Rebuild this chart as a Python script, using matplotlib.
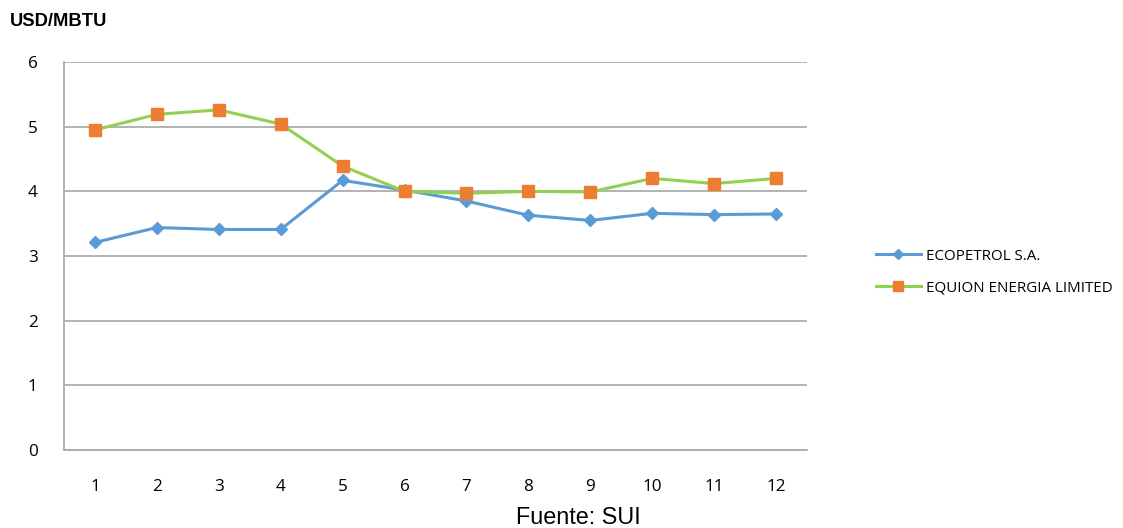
import matplotlib
matplotlib.use("Agg")
import matplotlib.pyplot as plt

months = [1, 2, 3, 4, 5, 6, 7, 8, 9, 10, 11, 12]
ecopetrol = [3.21, 3.44, 3.41, 3.41, 4.17, 4.02, 3.85, 3.63, 3.55, 3.66, 3.64, 3.65]
equion = [4.95, 5.19, 5.26, 5.04, 4.39, 4.00, 3.97, 4.00, 3.99, 4.20, 4.12, 4.20]
series_names = ["ECOPETROL S.A.", "EQUION ENERGIA LIMITED"]
yticks = [0, 1, 2, 3, 4, 5, 6]

W, H = 1123, 528
fig = plt.figure(figsize=(W / 100, H / 100), dpi=100)
ax = fig.add_axes([64 / W, 1 - 450 / H, (807 - 64) / W, (450 - 62) / H])

tick_font = "Open Sans"
grid_col = "#a6a6a6"

ax.plot(months, ecopetrol, color="#5b9bd5", lw=2.2, marker="D", ms=6,
        markerfacecolor="#5b9bd5", markeredgecolor="#5b9bd5", label=series_names[0], zorder=3)
ax.plot(months, equion, color="#92d050", lw=2.2, marker="s", ms=9,
        markerfacecolor="#ed7d31", markeredgecolor="#ed7d31", label=series_names[1], zorder=3)

ax.set_xlim(0.5, 12.5)
ax.set_ylim(0, 6)
ax.set_yticks(yticks)
ax.set_xticks(months)
ax.yaxis.grid(True, color=grid_col, lw=1.2)
ax.set_axisbelow(True)
for s in ["top", "right"]:
    ax.spines[s].set_visible(False)
for s in ["left", "bottom"]:
    ax.spines[s].set_color(grid_col)
    ax.spines[s].set_linewidth(1.2)
ax.tick_params(axis="both", length=0, labelsize=12.3, colors="#000000")
ax.tick_params(axis="y", pad=19)
ax.tick_params(axis="x", pad=21)
for lab in ax.get_xticklabels() + ax.get_yticklabels():
    lab.set_family(tick_font)

fig.text(10 / W, 1 - 22 / H, "USD/MBTU", fontsize=13.2, fontweight="bold",
         family="Liberation Sans", va="center", ha="left")
fig.text(578 / W, 1 - 517 / H, "Fuente: SUI", fontsize=16.8,
         family="Liberation Sans", va="center", ha="center")

leg = fig.legend(loc="center left", bbox_to_anchor=(862 / W, 1 - 272 / H), frameon=False,
                 prop={"family": tick_font, "size": 10.9}, handlelength=3.0, labelspacing=1.1,
                 handletextpad=0.3)
leg.legend_handles[0].set_markersize(5)
leg.legend_handles[1].set_markersize(7.5)

fig.savefig("out.png", dpi=100)
